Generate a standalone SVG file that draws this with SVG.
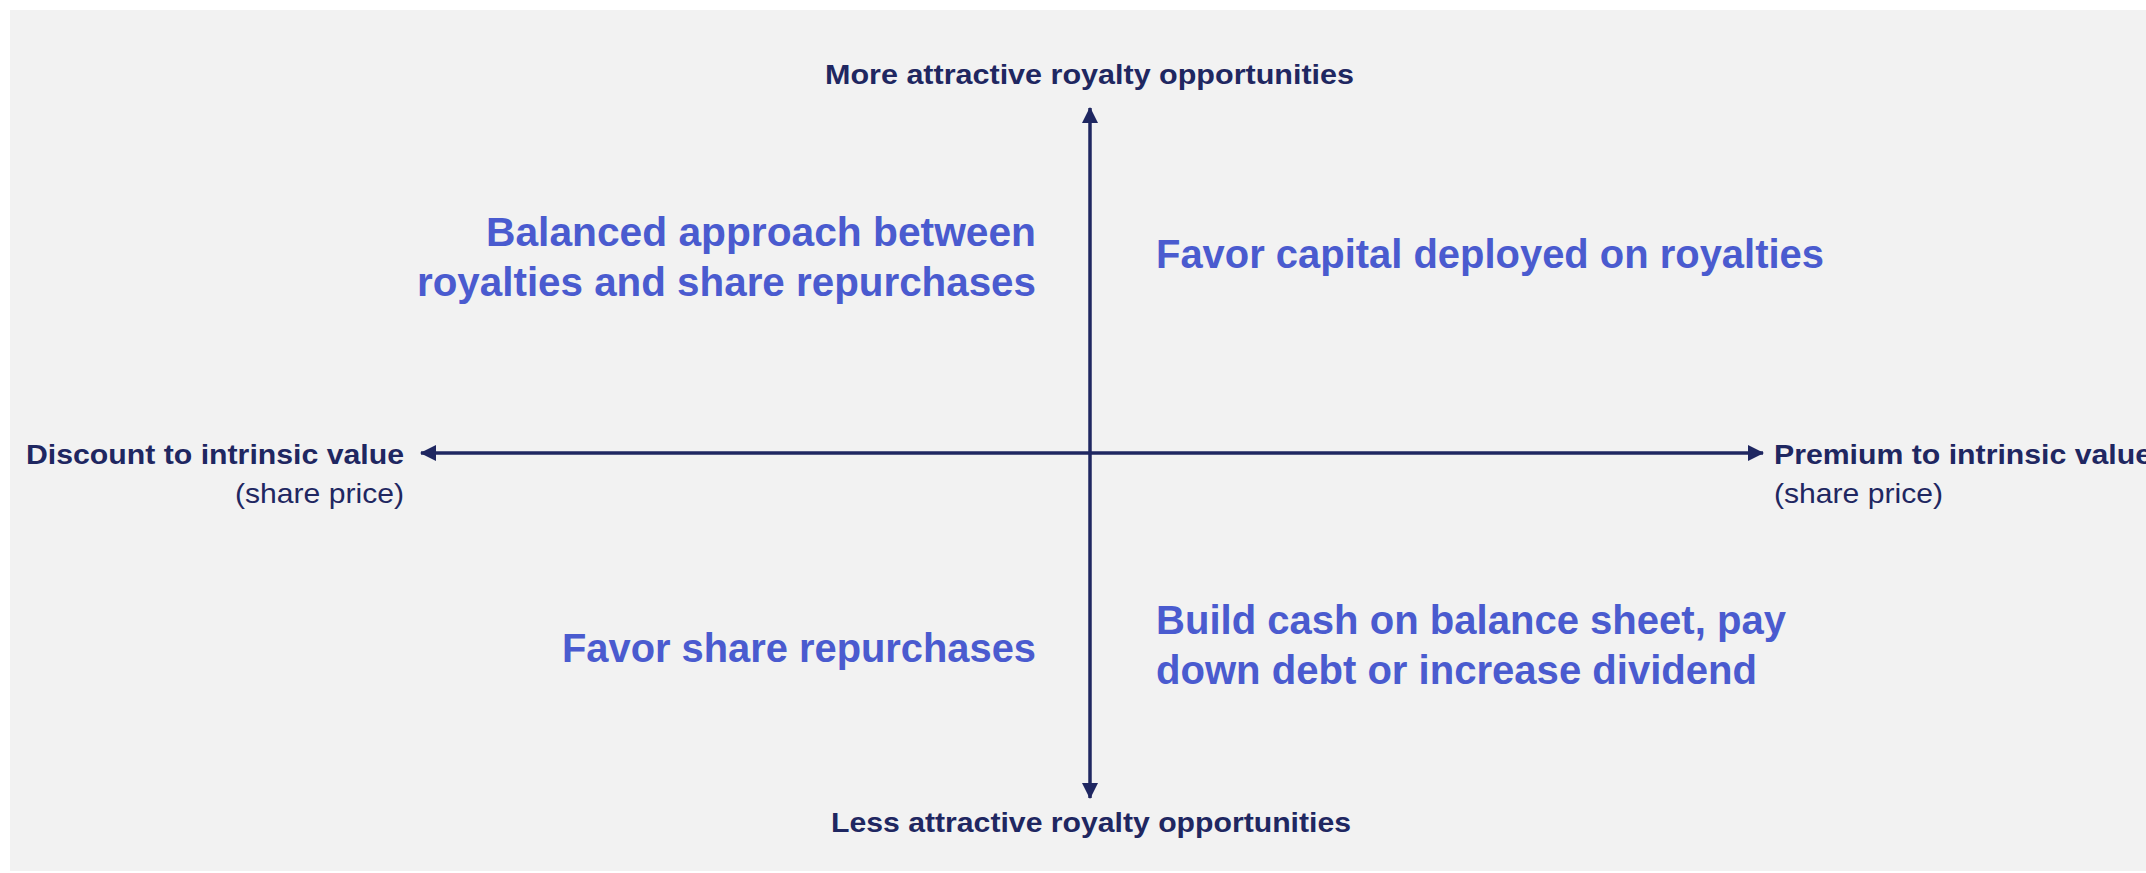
<svg xmlns="http://www.w3.org/2000/svg" width="2146" height="873" viewBox="0 0 2146 873">
  <style>
    .axis { stroke: #1F2761; stroke-width: 3.5; fill: none; }
    .lbl { font-family: "Liberation Sans", Arial, sans-serif; font-weight: bold; font-size: 28px; fill: #1F2761; }
    .sub { font-family: "Liberation Sans", Arial, sans-serif; font-size: 28px; fill: #1F2761; }
    .q { font-family: "Liberation Sans", Arial, sans-serif; font-weight: bold; font-size: 40px; fill: #4A5BCF; }
  </style>
  <defs>
    <marker id="arr" viewBox="0 0 16 16" refX="15" refY="8" markerWidth="16" markerHeight="16" markerUnits="userSpaceOnUse" orient="auto-start-reverse">
      <path d="M0,0 L16,8 L0,16 Z" fill="#1F2761"/>
    </marker>
  </defs>
  <rect x="0" y="0" width="2146" height="873" fill="#FFFFFF"/>
  <rect x="10" y="10" width="2136" height="861" fill="#F2F2F2"/>

  <g id="connectors">
    <line class="axis" x1="1090" y1="108" x2="1090" y2="798" marker-start="url(#arr)" marker-end="url(#arr)"/>
    <line class="axis" x1="421" y1="453" x2="1763" y2="453" marker-start="url(#arr)" marker-end="url(#arr)"/>
  </g>

  <g id="label-top">
    <text class="lbl" x="825" y="84" textLength="529" lengthAdjust="spacingAndGlyphs">More attractive royalty opportunities</text>
  </g>
  <g id="label-bottom">
    <text class="lbl" x="831" y="832" textLength="520" lengthAdjust="spacingAndGlyphs">Less attractive royalty opportunities</text>
  </g>
  <g id="label-left">
    <text class="lbl" x="26" y="464" textLength="378" lengthAdjust="spacingAndGlyphs">Discount to intrinsic value</text>
    <text class="sub" x="235" y="503" textLength="169" lengthAdjust="spacingAndGlyphs">(share price)</text>
  </g>
  <g id="label-right">
    <text class="lbl" x="1774" y="464" textLength="378" lengthAdjust="spacingAndGlyphs">Premium to intrinsic value</text>
    <text class="sub" x="1774" y="503" textLength="169" lengthAdjust="spacingAndGlyphs">(share price)</text>
  </g>

  <g id="quadrant-top-left">
    <text class="q" x="486" y="246" textLength="550" lengthAdjust="spacingAndGlyphs">Balanced approach between</text>
    <text class="q" x="417" y="296" textLength="619" lengthAdjust="spacingAndGlyphs">royalties and share repurchases</text>
  </g>
  <g id="quadrant-top-right">
    <text class="q" x="1156" y="268" textLength="668" lengthAdjust="spacingAndGlyphs">Favor capital deployed on royalties</text>
  </g>
  <g id="quadrant-bottom-left">
    <text class="q" x="562" y="662" textLength="474" lengthAdjust="spacingAndGlyphs">Favor share repurchases</text>
  </g>
  <g id="quadrant-bottom-right">
    <text class="q" x="1156" y="634" textLength="630" lengthAdjust="spacingAndGlyphs">Build cash on balance sheet, pay</text>
    <text class="q" x="1156" y="684" textLength="601" lengthAdjust="spacingAndGlyphs">down debt or increase dividend</text>
  </g>
</svg>
